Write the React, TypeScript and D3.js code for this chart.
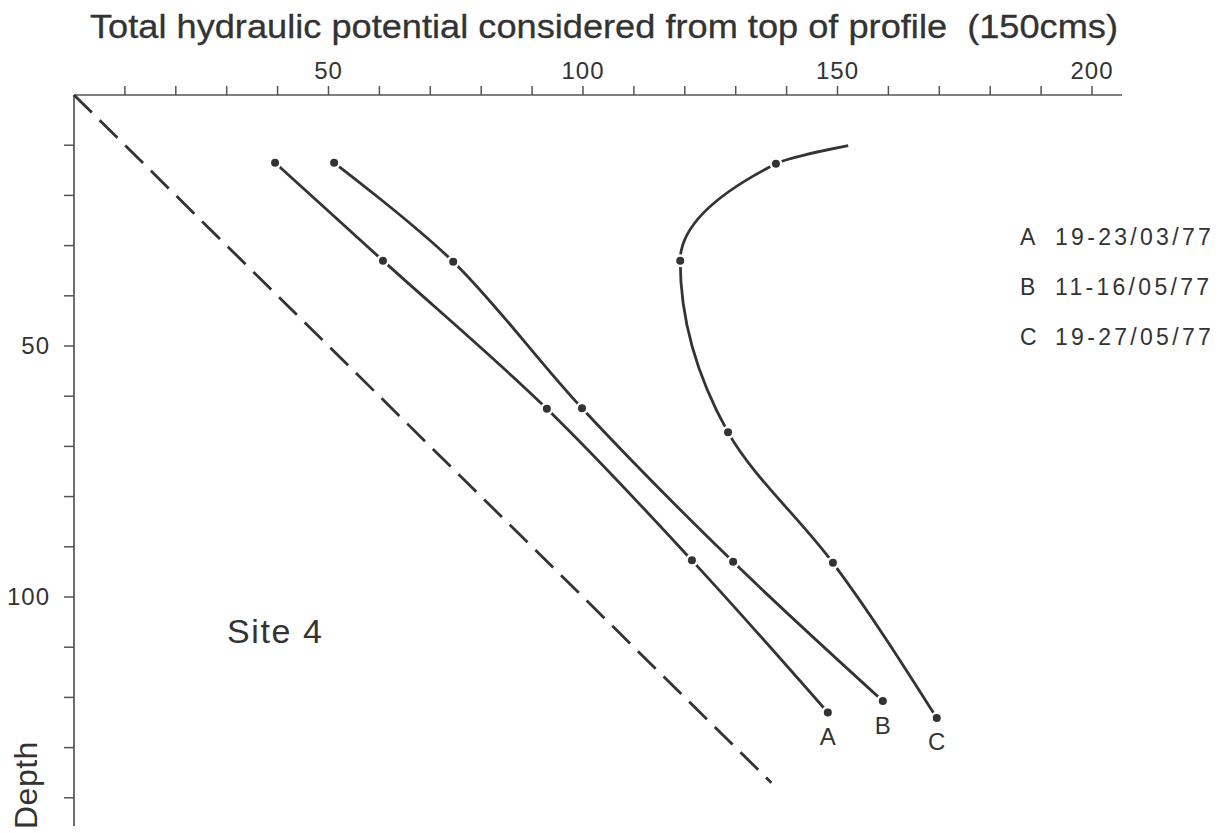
import React from 'react';
import * as d3 from 'd3';

// depth (cm) and total hydraulic potential for each measuring period
const depthsA = [13.5, 33, 62.5, 92.7, 123];
const potentialA = [39.5, 60.7, 92.9, 121.4, 148.1];
const depthsB = [13.5, 33.2, 62.4, 93.0, 120.7];
const potentialB = [51.1, 74.5, 99.8, 129.5, 158.9];
const depthsC = [10.1, 13.7, 33, 67.2, 93.2, 124.1];
const potentialC = [152.1, 137.9, 119.1, 128.5, 149.1, 169.5];
const dotsFromC = 1; // first point of C is only the curve's start
const gravityLine = [[0, 0], [137, 137]];

const seriesNames = ['A', 'B', 'C'];
const legendDates = ['19-23/03/77', '11-16/05/77', '19-27/05/77'];
const xTickValues = d3.range(10, 201, 10);
const xTickLabels = [50, 100, 150, 200];
const yTickValues = d3.range(10, 141, 10);
const yTickLabels = [50, 100];

const W = 1226;
const H = 833;
const FONT = '"Liberation Sans", Arial, Helvetica, sans-serif';
const INK = '#333';

export default function App() {
  const x = d3.scaleLinear().domain([0, 200]).range([74, 1092]);
  const y = d3.scaleLinear().domain([0, 100]).range([95, 597]);
  const xEnd = 205.9;
  const yEnd = 145.6;

  const lineFor = (curve: d3.CurveFactory) => d3.line<[number, number]>()
    .x(d => x(d[0]))
    .y(d => y(d[1]))
    .curve(curve);

  const series = [
    { name: 'A', pts: potentialA.map((p, i) => [p, depthsA[i]] as [number, number]), from: 0, curve: d3.curveCatmullRom.alpha(0.5) },
    { name: 'B', pts: potentialB.map((p, i) => [p, depthsB[i]] as [number, number]), from: 0, curve: d3.curveCatmullRom.alpha(0.5) },
    { name: 'C', pts: potentialC.map((p, i) => [p, depthsC[i]] as [number, number]), from: dotsFromC, curve: d3.curveMonotoneY },
  ];
  // offsets of the end letters below the last point
  const endLabelDy = [33, 33, 32];

  return (
    <svg width={W} height={H} style={{ position: 'absolute', left: 0, top: 0, background: '#fff' }}
      fontFamily={FONT}>
      <text x={90} y={38} fontSize={33} fill={INK} stroke={INK} strokeWidth={0.3}
        textLength={1028} lengthAdjust="spacingAndGlyphs">
        {'Total hydraulic potential considered from top of profile \u00a0(150cms)'}
      </text>

      {/* top axis */}
      <line x1={x(0)} y1={y(0)} x2={x(xEnd)} y2={y(0)} stroke="#555" strokeWidth={1.7} />
      {xTickValues.map(v => (
        <line key={'xt' + v} x1={x(v)} x2={x(v)} y1={y(0)} y2={y(0) - 9} stroke="#555" strokeWidth={1.5} />
      ))}
      {xTickLabels.map(v => (
        <text key={'xl' + v} x={x(v)} y={79} fontSize={24} fill={INK} textAnchor="middle" letterSpacing={1}>
          {v}
        </text>
      ))}

      {/* left axis */}
      <line x1={x(0)} y1={y(0)} x2={x(0)} y2={y(yEnd)} stroke="#555" strokeWidth={1.7} />
      {yTickValues.map(v => (
        <line key={'yt' + v} x1={x(0) - 10} x2={x(0)} y1={y(v)} y2={y(v)} stroke="#555" strokeWidth={1.5} />
      ))}
      {yTickLabels.map(v => (
        <text key={'yl' + v} x={50} y={y(v) + 8} fontSize={24} fill={INK} textAnchor="end" letterSpacing={1}>
          {v}
        </text>
      ))}
      <text transform={`translate(37,829) rotate(-90)`} fontSize={32} fill={INK} letterSpacing={0.5}>Depth</text>

      {/* gravitational potential (dashed) */}
      <line x1={x(gravityLine[0][0])} y1={y(gravityLine[0][1])} x2={x(gravityLine[1][0])} y2={y(gravityLine[1][1])}
        stroke={INK} strokeWidth={2.8} strokeDasharray="25 11" />

      {series.map((s, si) => (
        <g key={s.name}>
          <path d={lineFor(s.curve)(s.pts) || ''} fill="none" stroke={INK} strokeWidth={2.8} />
          {s.pts.slice(s.from).map((p, i) => (
            <g key={i}>
              <circle cx={x(p[0])} cy={y(p[1])} r={6.5} fill="#fff" />
              <circle cx={x(p[0])} cy={y(p[1])} r={4} fill={INK} />
            </g>
          ))}
          <text x={x(s.pts[s.pts.length - 1][0])} y={y(s.pts[s.pts.length - 1][1]) + endLabelDy[si]}
            fontSize={24} fill={INK} textAnchor="middle">{s.name}</text>
        </g>
      ))}

      <text x={227} y={643} fontSize={34} fill={INK} textLength={95} lengthAdjust="spacing">Site 4</text>

      {seriesNames.map((n, i) => (
        <g key={'lg' + n}>
          <text x={1020} y={245 + i * 50} fontSize={23} fill={INK}>{n}</text>
          <text x={1055} y={245 + i * 50} fontSize={23} fill={INK} letterSpacing={3.3}>
            {legendDates[i]}
          </text>
        </g>
      ))}
    </svg>
  );
}
